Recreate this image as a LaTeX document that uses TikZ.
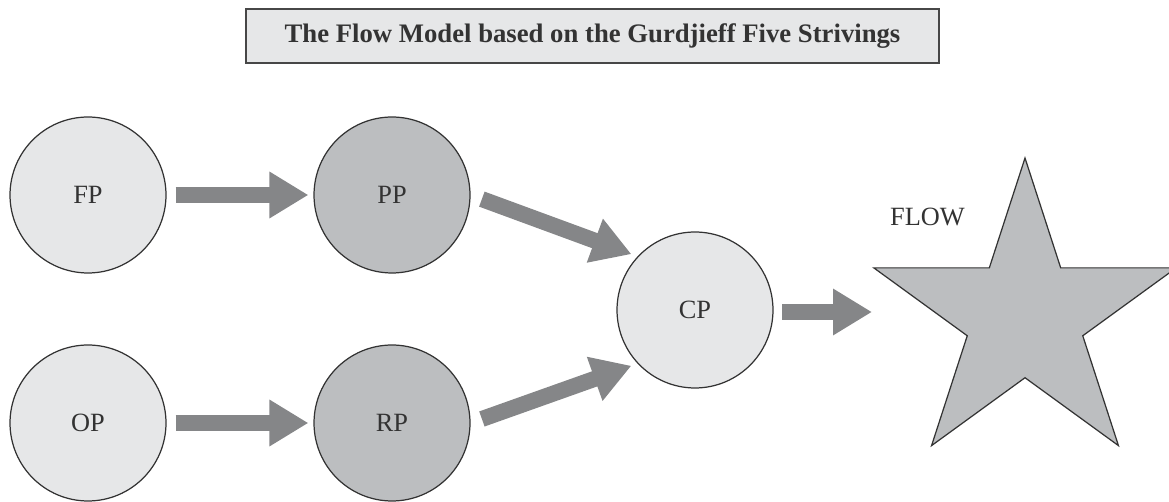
\documentclass[tikz,border=0pt]{standalone}
\usepackage{fontspec}
\setmainfont{Liberation Serif}
\usetikzlibrary{arrows.meta,shapes.geometric}
\definecolor{lightfill}{HTML}{E6E7E8}
\definecolor{darkfill}{HTML}{BCBEC0}
\definecolor{arrowgray}{HTML}{858688}
\definecolor{edgegray}{HTML}{333333}
\definecolor{textgray}{HTML}{333333}
\tikzset{
  pnode/.style={circle, draw=edgegray, line width=0.7pt, minimum size=3.12cm, inner sep=0pt,
    text=textgray, font=\fontsize{15}{18}\selectfont},
  plight/.style={pnode, fill=lightfill},
  pdark/.style={pnode, fill=darkfill},
  bigarrow/.style={draw=arrowgray, line width=0.32cm,
    -{Triangle[length=0.78cm, width=0.88cm, fill=arrowgray]}},
  titlebox/.style={draw=edgegray!90, fill=lightfill, line width=1.1pt, minimum width=13.86cm,
    minimum height=1.08cm, inner sep=0pt, text=textgray, font=\fontsize{15.2}{18}\selectfont\bfseries},
  flowstar/.style={star, star points=5, star point ratio=2.618, minimum size=6.36cm, inner sep=0pt,
    draw=edgegray, line width=0.7pt, fill=darkfill},
  lbl/.style={text=textgray, font=\fontsize{15}{18}\selectfont, inner sep=0pt}
}
\begin{document}
\begin{tikzpicture}[x=0.02cm, y=-0.02cm]
\useasboundingbox (0,0) rectangle (1169,502);
\node[titlebox] (title) at (592.5,35.7) {The Flow Model based on the Gurdjieff Five Strivings};
\node[plight] (FP) at (88,195) {FP};
\node[pdark]  (PP) at (392,195) {PP};
\node[plight] (OP) at (88,423) {OP};
\node[pdark]  (RP) at (392,423) {RP};
\node[plight] (CP) at (695,310) {CP};
\node[flowstar] (star) at (1025,317) {};
\node[lbl] (flow) at (927.5,217) {FLOW};
\coordinate (flowin) at (872,312);
\draw[bigarrow, shorten <=0.18cm, shorten >=0.1cm] (FP.east) -- (PP.west);
\draw[bigarrow, shorten <=0.18cm, shorten >=0.1cm] (OP.east) -- (RP.west);
\draw[bigarrow, shorten <=0.24cm, shorten >=0.13cm] (PP.east) -- (CP.137);
\draw[bigarrow, shorten <=0.24cm, shorten >=0.13cm] (RP.east) -- (CP.223);
\draw[bigarrow, shorten <=0.17cm] (CP.east |- flowin) -- (flowin);
\end{tikzpicture}
\end{document}
